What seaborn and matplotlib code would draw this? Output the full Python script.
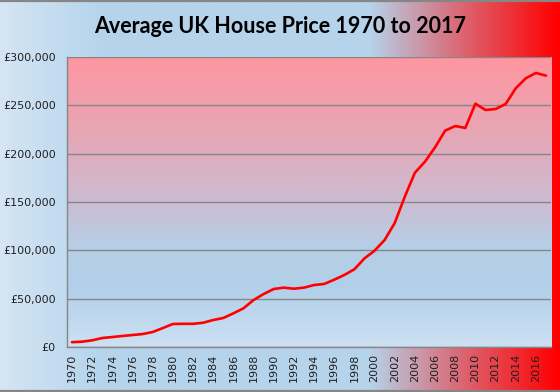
import numpy as np
import pandas as pd
import matplotlib
matplotlib.use("Agg")
import matplotlib.pyplot as plt
from matplotlib.colors import LinearSegmentedColormap
from matplotlib.lines import Line2D
import seaborn as sns

# average UK house price
years = list(range(1970, 2018))
prices = [5000, 5500, 6900, 9300, 10300, 11400, 12400, 13400, 15500, 19600,
          23800, 24000, 24000, 25100, 27900, 30000, 34800, 40000, 48600, 54800,
          60000, 61400, 60300, 61400, 64100, 65200, 69600, 74500, 80400, 91700,
          99600, 110700, 128300, 155500, 180300, 191700, 206600, 223800, 228600, 226600,
          251700, 245200, 246200, 251400, 267600, 278000, 283500, 280700]
y_ticks = [0, 50000, 100000, 150000, 200000, 250000, 300000]

df = pd.DataFrame({"pos": np.arange(len(years)), "year": years, "price": prices})

sns.set_style("white")
plt.rcParams["font.family"] = ["DejaVu Sans"]

fig = plt.figure(figsize=(5.6, 3.92), dpi=100)

# figure background: light blue -> red across the width
bg = fig.add_axes([0, 0, 1, 1], zorder=-10)
bg_cmap = LinearSegmentedColormap.from_list("bg", [
    (0.0, (213/255, 229/255, 243/255)),
    (0.18, (181/255, 212/255, 236/255)),
    (0.66, (181/255, 212/255, 236/255)),
    (0.83, (220/255, 100/255, 112/255)),
    (1.0, (1.0, 0.0, 0.0)),
])
bg.imshow(np.linspace(0, 1, 300).reshape(1, -1), cmap=bg_cmap, aspect="auto",
          extent=[0, 1, 0, 1])
bg.set_xlim(0, 1)
bg.set_ylim(0, 1)
bg.axis("off")

ax = fig.add_axes([0.1196, 0.1148, 0.8644, 0.7398])

# plot area: pink at top fading to blue
pa_cmap = LinearSegmentedColormap.from_list("pa", [
    (0.0, (205/255, 224/255, 242/255)),
    (0.2, (178/255, 208/255, 234/255)),
    (0.35, (182/255, 206/255, 230/255)),
    (0.5, (205/255, 188/255, 210/255)),
    (0.75, (232/255, 165/255, 180/255)),
    (1.0, (255/255, 150/255, 160/255)),
])
ax.imshow(np.linspace(0, 1, 300).reshape(-1, 1), cmap=pa_cmap, aspect="auto",
          origin="lower", extent=[-0.5, len(years) - 0.5, 0, 300000], zorder=0)

sns.lineplot(data=df, x="pos", y="price", color="#ff0000", linewidth=1.9, ax=ax, zorder=3)

ax.set_xlim(-0.5, len(years) - 0.5)
ax.set_ylim(0, 300000)
ax.set_xlabel("")
ax.set_ylabel("")

ax.set_yticks(y_ticks)
ax.set_yticklabels([f"£{v:,}" for v in y_ticks], fontsize=8, color="#202020")
ax.yaxis.grid(True, color="#868686", linewidth=1)
ax.set_axisbelow(False)

ax.set_xticks(df["pos"][::2])
ax.set_xticklabels([str(y) for y in years[::2]], rotation=90, fontsize=8, color="#202020")
ax.set_xticks(np.arange(len(years) + 1) - 0.5, minor=True)
ax.tick_params(axis="x", which="major", length=0, pad=5)
ax.tick_params(axis="x", which="minor", length=5, color="#868686", width=1)
ax.tick_params(axis="y", which="major", length=5, color="#868686", width=1, pad=3)

for side in ["top", "right"]:
    ax.spines[side].set_visible(False)
for side in ["left", "bottom"]:
    ax.spines[side].set_color("#868686")
    ax.spines[side].set_linewidth(1)

fig.text(0.5, 0.932, "Average UK House Price 1970 to 2017", ha="center", va="center",
         fontsize=15.5, fontweight="bold", family=["Lato", "DejaVu Sans"], color="#000000")

# grey line along the top and bottom edge of the chart
for yy in (0.002, 0.998):
    fig.lines.append(Line2D([0, 1], [yy, yy], transform=fig.transFigure,
                            color="#868686", linewidth=1.6))

fig.savefig("out.png", dpi=100)
